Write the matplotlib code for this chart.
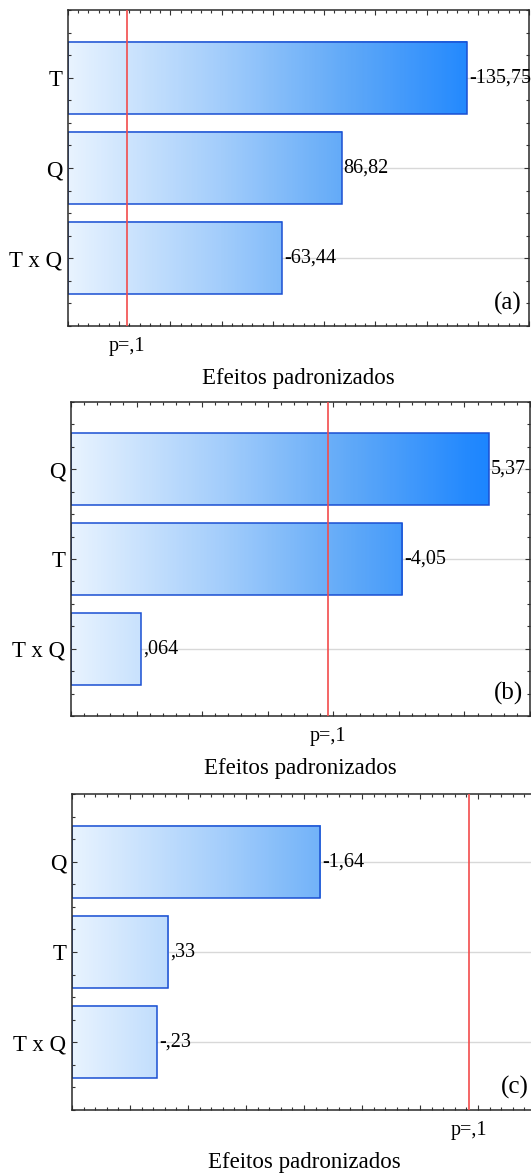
import numpy as np
import matplotlib
matplotlib.use('Agg')
import matplotlib.pyplot as plt
import matplotlib.ticker as ticker
from matplotlib.colors import LinearSegmentedColormap
from matplotlib.patches import Rectangle

plt.rcParams['font.family'] = ['Liberation Serif', 'DejaVu Serif']

# Pareto charts of standardized effects (Statistica style)
panel_tags = ['(a)', '(b)', '(c)']
factors_a = ['T', 'Q', 'T x Q']
effects_a = [-135.75, 86.82, -63.44]
effect_text_a = ['-135,75', '86,82', '-63,44']
factors_b = ['Q', 'T', 'T x Q']
effects_b = [5.37, -4.05, 0.064]
effect_text_b = ['5,37', '-4,05', ',064']
factors_c = ['Q', 'T', 'T x Q']
effects_c = [-1.64, 0.33, -0.23]
effect_text_c = ['-1,64', ',33', '-,23']
t_crit = 2.92          # p = 0.1 limit
p_label = 'p=,1'
x_label = 'Efeitos padronizados'

xlims = [(-20, 160), (-1, 6), (-0.5, 3.5)]
major_steps = [20, 1, 0.5]
minor_steps = [4, 0.2, 0.1]

W, H = 531, 1174
# axes boxes in pixels: left, right, top, bottom
boxes = [(68, 529, 10, 326), (71, 530, 402, 716), (72, 536, 794, 1110)]

cmap = LinearSegmentedColormap.from_list(
    'bargrad', [(0.0, '#e8f3ff'), (0.33, '#a3cdfb'), (0.6, '#62aaf8'),
                (0.87, '#2389fe'), (1.0, '#107eff')])

fig = plt.figure(figsize=(W / 100, H / 100), dpi=100)

panels = [(factors_a, effects_a, effect_text_a),
          (factors_b, effects_b, effect_text_b),
          (factors_c, effects_c, effect_text_c)]

for i, (factors, effects, etext) in enumerate(panels):
    l, r, t, b = boxes[i]
    ax = fig.add_axes([l / W, 1 - b / H, (r - l) / W, (b - t) / H])
    x0, x1 = xlims[i]
    ypos = np.arange(len(factors))

    for y in ypos:
        ax.axhline(y, color='#d8d8d8', lw=1.0, zorder=0)

    for y, v, s in zip(ypos, effects, etext):
        end = abs(v)
        frac = (end - x0) / (x1 - x0)
        grad = np.linspace(0, frac, 256).reshape(1, -1)
        ax.imshow(grad, cmap=cmap, vmin=0, vmax=1, aspect='auto',
                  extent=(x0, end, y + 0.4, y - 0.4), zorder=1,
                  interpolation='bilinear')
        ax.add_patch(Rectangle((x0, y - 0.4), end - x0, 0.8, fill=False,
                               edgecolor='#1a4fd2', lw=1.1, zorder=2))
        ax.annotate(s, (end, y), xytext=(1.5, 0), textcoords='offset points',
                    va='center', ha='left', fontsize=14.5, color='black',
                    annotation_clip=False, zorder=4)

    ax.axvline(t_crit, color='#f24c4c', lw=1.2, zorder=3)

    ax.set_xlim(x0, x1)
    ax.set_ylim(len(factors) - 0.25, -0.75)
    ax.set_yticks(ypos)
    ax.set_yticklabels(factors, fontsize=16.5, color='black')
    ax.yaxis.set_minor_locator(ticker.MultipleLocator(0.25))
    ax.xaxis.set_major_locator(ticker.MultipleLocator(major_steps[i]))
    ax.xaxis.set_minor_locator(ticker.MultipleLocator(minor_steps[i]))
    ax.tick_params(which='both', direction='in', top=True, right=True,
                   color='#333', width=0.8)
    ax.tick_params(which='major', length=3.5)
    ax.tick_params(which='minor', length=2)
    ax.tick_params(axis='x', labelbottom=False)
    ax.tick_params(axis='y', pad=4)
    for sp in ax.spines.values():
        sp.set_color('#2a2a2a')
        sp.set_linewidth(1.1)

    ax.annotate(p_label, (t_crit, 0), xycoords=('data', 'axes fraction'),
                xytext=(0, -15), textcoords='offset points',
                ha='center', va='center', fontsize=14.5, color='black',
                annotation_clip=False)
    ax.annotate(x_label, (0.5, 0), xycoords='axes fraction',
                xytext=(0, -37.5), textcoords='offset points',
                ha='center', va='center', fontsize=16.5, color='black',
                annotation_clip=False)
    ax.text(1 - 7 / (r - l), 23 / (b - t), panel_tags[i],
            transform=ax.transAxes, ha='right', va='center',
            fontsize=18, color='black', zorder=5)

fig.savefig('out.png', dpi=100)
